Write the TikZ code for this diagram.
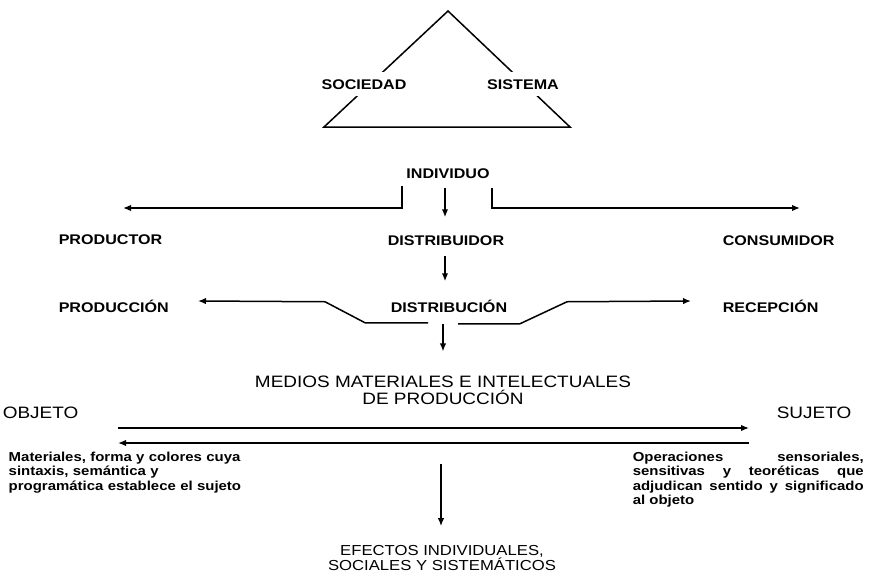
\documentclass[tikz,border=0pt]{standalone}
\usepackage{fontspec}
\setmainfont{Liberation Sans}[FakeStretch=1.15]
\usetikzlibrary{arrows.meta}

\tikzset{
	lbl/.style={font=\fontsize{14}{16}\selectfont\bfseries, inner sep=2pt, text height=10pt, text depth=0pt},
	big/.style={font=\fontsize{16.5}{17}\selectfont, align=center, inner sep=1pt},
	note/.style={font=\fontsize{13}{14.5}\selectfont\bfseries, anchor=north west, inner sep=0pt},
	arr/.style={-{Latex[length=8pt,width=6.5pt]}},
}

\begin{document}
\begin{tikzpicture}[x=1pt,y=-1pt,line width=1.5pt]
			\useasboundingbox (0,0) rectangle (874,578);
			\coordinate (apex) at (448,11);
			\coordinate (bl) at (324,127);
			\coordinate (br) at (570,127);
			\draw (apex) -- (bl) -- (br) -- cycle;
			\node[lbl,fill=white,inner ysep=7pt] (soc) at (364,84) {SOCIEDAD};
			\node[lbl,fill=white,inner ysep=7pt] (sis) at (523,84) {SISTEMA};

			\node[lbl] (ind) at (448,173) {INDIVIDUO};
			\node[lbl,anchor=west] (ptor) at (56,239) {PRODUCTOR};
			\node[lbl] (dor) at (446,240) {DISTRIBUIDOR};
			\node[lbl,anchor=west] (cons) at (720,240) {CONSUMIDOR};
			\node[lbl,anchor=west] (pcion) at (56,307) {PRODUCCIÓN};
			\node[lbl] (dcion) at (449,307) {DISTRIBUCIÓN};
			\node[lbl,anchor=west] (rec) at (720,307) {RECEPCIÓN};
			\node[big] (med) at (443,390.5) {MEDIOS MATERIALES E INTELECTUALES\\DE PRODUCCIÓN};
			\node[big,anchor=west] (obj) at (1,413) {OBJETO};
			\node[big,anchor=east] (suj) at (853,413) {SUJETO};
			\node[big,font=\fontsize{14.5}{15}\selectfont] (efe) at (442,557.5) {EFECTOS INDIVIDUALES,\\SOCIALES Y SISTEMÁTICOS};
			\node[note,text width=245pt,align=left] (mat) at (8,451) {Materiales, forma y colores cuya\\sintaxis, semántica y\\programática establece el sujeto};
			\node[note,text width=231pt,align=justify] (ope) at (632,451) {\tolerance=9999 Operaciones sensoriales,\linebreak sensitivas y teoréticas que\linebreak adjudican sentido y significado\linebreak al objeto};

			\coordinate (pl) at (123,208);
			\coordinate (pr) at (800,208);
			\coordinate (o1) at (118,428);
			\coordinate (s1) at (749,428);
			\coordinate (o2) at (118,443);
			\coordinate (s2) at (749,443);

			\draw[arr] (ind.south) ++(-46,5) |- (pl);
			\draw[arr] (ind.south) ++(44,7) |- (pr);
			\draw[arr] (ind.south) ++(-3,7) -- ([xshift=-1pt,yshift=15pt]dor.north);
			\draw[arr] (dor.south) ++(-1,8) -- ([xshift=-4pt,yshift=18pt]dcion.north);
			\draw[arr] (dcion.south) ++(-21,8) -- ++(-63,0) -- ++(-40,-21) -- ([yshift=6pt]pcion.east -| 198,0);
			\draw[arr] (dcion.south) ++(9,9) -- ++(62,0) -- ++(47,-22) -- ([xshift=-29pt,yshift=6pt]rec.west);
			\draw[arr] (dcion.south) ++(-6,9) -- ([yshift=23pt]med.north);
			\draw[arr] (o1) -- (s1);
			\draw[arr] (s2) -- (o2);
			\draw[arr] ([xshift=-2pt,yshift=-57pt]med.south) -- ([xshift=-1pt,yshift=17pt]efe.north);
		\end{tikzpicture}
\end{document}
